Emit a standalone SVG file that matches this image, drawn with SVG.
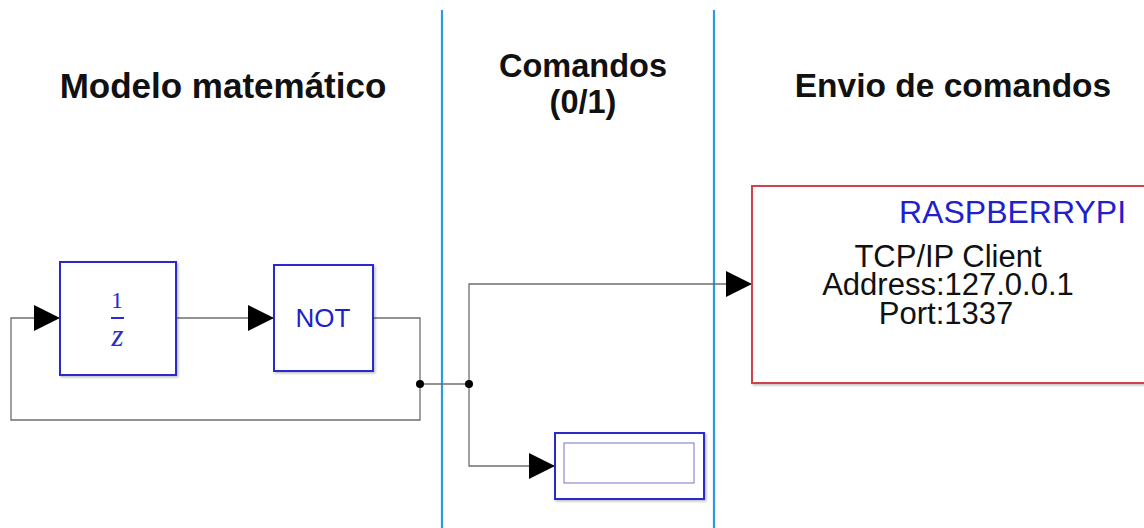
<svg xmlns="http://www.w3.org/2000/svg" width="1144" height="528" viewBox="0 0 1144 528">
  <defs>
    <style>
      .title { font-family: "Liberation Sans", Arial, Helvetica, sans-serif; font-weight: bold; fill: #111; }
      .lbl { font-family: "Liberation Sans", Arial, Helvetica, sans-serif; }
      .blk { fill: #ffffff; stroke: #2b2bcc; stroke-width: 2; }
      .sig { fill: none; stroke: #6e6e6e; stroke-width: 1.3; }
      .sep { stroke: #2a9be3; stroke-width: 2.2; }
      .dot { fill: #000; }
      .math { font-family: "Liberation Serif", "Times New Roman", serif; fill: #2b2bcc; }
    </style>
    <marker id="arrow" markerUnits="userSpaceOnUse" viewBox="0 0 26 26" refX="26" refY="13" markerWidth="26" markerHeight="26" orient="auto">
      <path d="M0,0 L26,13 L0,26 z" fill="#000"/>
    </marker>
    <filter id="shadow" x="-10%" y="-10%" width="130%" height="130%">
      <feDropShadow dx="1.5" dy="1.5" stdDeviation="1.2" flood-color="#000" flood-opacity="0.25"/>
    </filter>
  </defs>

  <rect x="0" y="0" width="1144" height="528" fill="#ffffff"/>

  <!-- section separators -->
  <g id="separators">
    <line class="sep" x1="442" y1="10" x2="442" y2="528"/>
    <line class="sep" x1="714" y1="10" x2="714" y2="528"/>
  </g>

  <!-- section titles -->
  <g id="titles">
    <text class="title" x="223" y="98" font-size="35" text-anchor="middle">Modelo matemático</text>
    <text class="title" x="583" y="77" font-size="32.5" text-anchor="middle">Comandos</text>
    <text class="title" x="583" y="113" font-size="32.5" text-anchor="middle">(0/1)</text>
    <text class="title" x="953" y="97" font-size="33.5" text-anchor="middle">Envio de comandos</text>
  </g>

  <!-- signal lines -->
  <g id="connectors">
    <!-- unit delay to NOT -->
    <path class="sig" d="M176,318 L274,318" marker-end="url(#arrow)"/>
    <!-- NOT output, feedback loop back into unit delay -->
    <path class="sig" d="M373,318 L420,318 L420,420 L11,420 L11,318 L60,318" marker-end="url(#arrow)"/>
    <!-- branch towards command section -->
    <path class="sig" d="M420,384 L469,384"/>
    <!-- to TCP/IP client -->
    <path class="sig" d="M469,384 L469,284 L752,284" stroke="#444" marker-end="url(#arrow)"/>
    <!-- to display -->
    <path class="sig" d="M469,384 L469,466 L555,466" marker-end="url(#arrow)"/>
    <circle class="dot" cx="420" cy="384" r="4"/>
    <circle class="dot" cx="469" cy="384" r="4"/>
  </g>

  <!-- unit delay 1/z -->
  <g id="unit-delay">
    <rect class="blk" x="60" y="262" width="116" height="113" filter="url(#shadow)"/>
    <text class="math" x="117" y="308" font-size="24" text-anchor="middle">1</text>
    <line x1="111" y1="318" x2="124" y2="318" stroke="#2b2bcc" stroke-width="2"/>
    <text class="math" x="117.5" y="346" font-style="italic" font-size="31" text-anchor="middle">z</text>
  </g>

  <!-- logical NOT -->
  <g id="not-block">
    <rect class="blk" x="274" y="265" width="99" height="106" filter="url(#shadow)"/>
    <text class="lbl" x="323" y="327" font-size="26" fill="#2020cc" text-anchor="middle">NOT</text>
  </g>

  <!-- display -->
  <g id="display">
    <rect class="blk" x="555" y="433" width="149" height="66" filter="url(#shadow)"/>
    <rect x="564" y="443" width="130" height="40" fill="none" stroke="#7a72c8" stroke-width="1"/>
  </g>

  <!-- TCP/IP client block -->
  <g id="tcpip-client">
    <rect x="752" y="186" width="420" height="197" fill="#ffffff" stroke="#d0424c" stroke-width="2" filter="url(#shadow)"/>
    <text class="lbl" x="899" y="223" font-size="32" fill="#2020cc">RASPBERRYPI</text>
    <text class="lbl" x="948" y="267" font-size="31" fill="#111" text-anchor="middle">TCP/IP Client</text>
    <text class="lbl" x="948" y="295" font-size="31" fill="#111" text-anchor="middle">Address:127.0.0.1</text>
    <text class="lbl" x="946" y="324" font-size="31" fill="#111" text-anchor="middle">Port:1337</text>
  </g>
</svg>
